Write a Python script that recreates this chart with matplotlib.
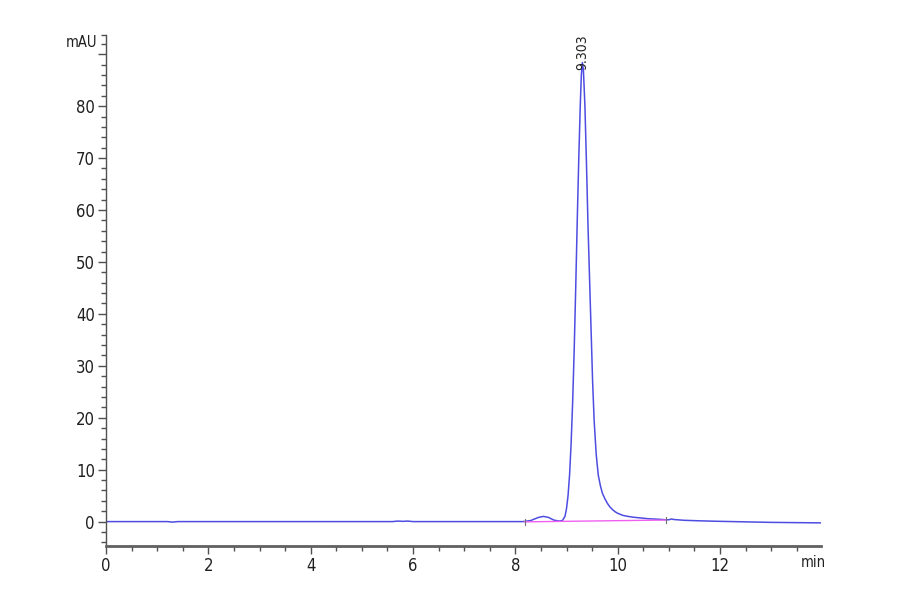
import matplotlib
matplotlib.use("Agg")
import matplotlib.pyplot as plt
from matplotlib.ticker import MultipleLocator, FixedLocator

plt.rcParams['font.family'] = ['DejaVu Sans']
plt.rcParams['font.stretch'] = 'condensed'

# signal (min, mAU)
time_min = [0.0, 1.2, 1.3, 1.4, 1.5, 3.0, 5.6, 5.7, 5.8, 5.9, 6.0, 7.0, 8.0, 8.15,
            8.3, 8.45, 8.55, 8.65, 8.75, 8.85, 8.92, 8.97, 9.00, 9.03, 9.06, 9.09,
            9.12, 9.15, 9.18, 9.21, 9.24, 9.27, 9.29, 9.31, 9.33, 9.36, 9.39, 9.42,
            9.45, 9.48, 9.51, 9.54, 9.58, 9.62, 9.66, 9.70, 9.75, 9.80, 9.85, 9.90,
            9.95, 10.0, 10.1, 10.2, 10.3, 10.45, 10.6, 10.8, 10.95, 11.0, 11.05,
            11.1, 11.3, 11.6, 12.0, 12.5, 13.0, 14.0]
signal_mau = [0.0, 0.0, -0.1, 0.0, 0.0, 0.0, 0.0, 0.1, 0.05, 0.1, 0.0, 0.0, 0.0, 0.0,
              0.2, 0.8, 1.0, 0.8, 0.3, 0.1, 0.2, 1.0, 2.5, 5.0, 9.0, 15.0,
              23.0, 33.0, 45.0, 58.0, 70.0, 80.5, 86.0, 88.4, 87.0, 80.0, 69.0, 57.0,
              47.0, 37.0, 27.0, 19.5, 13.0, 9.0, 7.0, 5.5, 4.4, 3.5, 2.8, 2.3,
              1.9, 1.6, 1.2, 1.0, 0.85, 0.7, 0.55, 0.45, 0.35, 0.35, 0.5,
              0.4, 0.25, 0.15, 0.05, -0.05, -0.15, -0.25]

# integration baseline and its start/end markers
base_time = [8.18, 10.95]
base_mau = [-0.05, 0.3]

peak_rt = 9.303
peak_label = "9.303"
peak_top = 88.4

y_ticks = [0, 10, 20, 30, 40, 50, 60, 70, 80, 90]
y_labels = ['0', '10', '20', '30', '40', '50', '60', '70', '80', '']
x_ticks = [0, 2, 4, 6, 8, 10, 12]
y_top = 93.7

fig = plt.figure(figsize=(9, 5.94), dpi=100)
ax = fig.add_axes([0.1178, 0.0808, 0.7942, 0.8603])

ax.plot(time_min, signal_mau, color='#4d4de2', lw=1.1)
ax.plot(base_time, base_mau, color='#f060f0', lw=1.0)
for t, v in zip(base_time, base_mau):
    ax.plot([t, t], [v - 0.6, v + 0.6], color='#707070', lw=0.8)

ax.text(peak_rt, peak_top - 1.5, peak_label, rotation=90, ha='center', va='bottom',
        fontsize=10, color='#202020')

ax.set_xlim(0, 13.97)
ax.set_ylim(-4.7, y_top)
ax.set_xticks(x_ticks)
ax.set_yticks(y_ticks)
ax.set_yticklabels(y_labels)
ax.xaxis.set_minor_locator(MultipleLocator(0.5))
ax.yaxis.set_minor_locator(FixedLocator(list(range(-4, 93, 2)) + [y_top]))

for side in ['top', 'right']:
    ax.spines[side].set_visible(False)
ax.spines['left'].set_color('#505050')
ax.spines['bottom'].set_color('#606060')
ax.spines['bottom'].set_linewidth(2.0)
ax.spines['left'].set_linewidth(1.0)
ax.tick_params(which='major', length=6, width=1, color='#505050', labelsize=12,
               labelcolor='#202020', pad=2)
ax.tick_params(which='minor', length=3.5, width=1, color='#505050')

ax.text(-0.17, 92.3, 'mAU', ha='right', va='center', fontsize=10.5, color='#202020')
ax.annotate('min', xy=(13.82, 0), xycoords=('data', 'axes fraction'),
            xytext=(0, -6.3), textcoords='offset points', ha='center', va='top',
            fontsize=10.5, color='#202020')

fig.savefig('out.png', dpi=100, facecolor='white')
